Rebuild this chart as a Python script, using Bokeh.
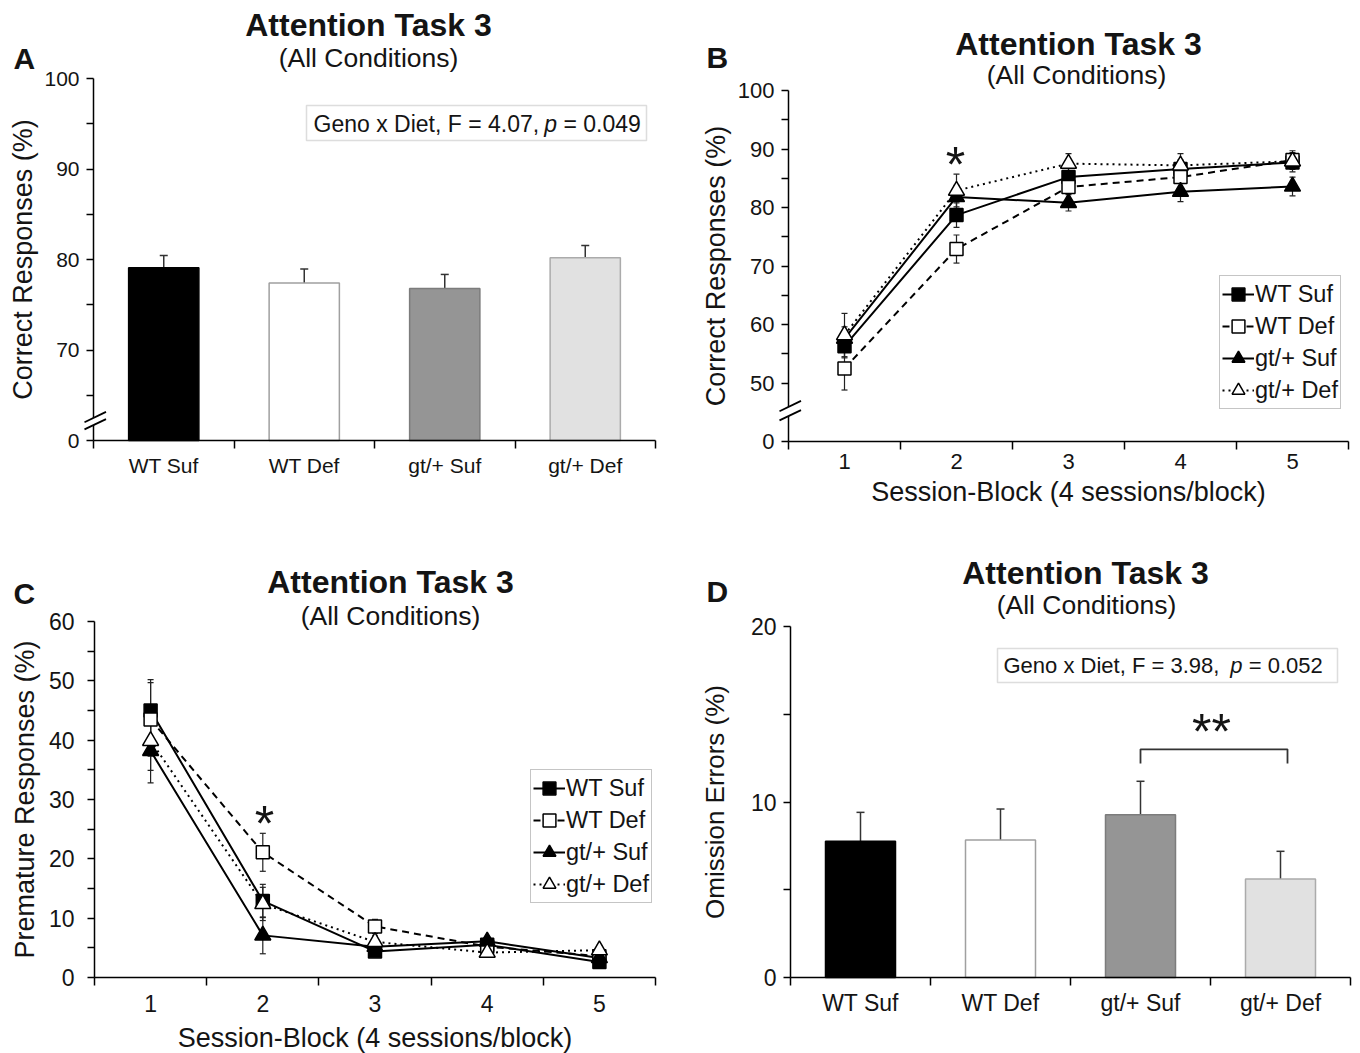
import math
from bokeh.plotting import figure
from bokeh.models import (Range1d, FixedTicker, Label, Arrow, Whisker, TeeHead,
                          ColumnDataSource, Legend, LegendItem, BoxAnnotation)
from bokeh.layouts import column, row
from bokeh.embed import file_html
from bokeh.resources import INLINE

FONT = "Liberation Sans"
INK = "#141414"

# ---------------- data ----------------
groups = ["WT Suf", "WT Def", "gt/+ Suf", "gt/+ Def"]
bar_fill = ["#000000", "#ffffff", "#959595", "#e1e1e1"]
bar_line = ["#000000", "#a0a0a0", "#7c7c7c", "#ababab"]

# Panel A: correct responses (bars); axis broken below 70 (bottom tick shown as "0")
a_correct = [79.1, 77.4, 76.8, 80.2]
a_sem = [1.35, 1.55, 1.55, 1.35]
a_major = [60, 70, 80, 90, 100]
a_minor = [65, 75, 85, 95]
a_overrides = {60: "0"}

# Panels B, C: per session block
blocks = [1, 2, 3, 4, 5]
series_names = ["WT Suf", "WT Def", "gt/+ Suf", "gt/+ Def"]

b_wt_suf = [56.3, 78.7, 85.2, 86.6, 87.7]
b_wt_def = [52.5, 72.9, 83.5, 85.2, 88.1]
b_gt_suf = [57.6, 81.8, 80.8, 82.7, 83.6]
b_gt_def = [58.2, 82.9, 87.5, 87.2, 87.9]
b_wt_suf_sem = [2.0, 2.1, 1.6, 1.5, 1.2]
b_wt_def_sem = [3.7, 2.4, 2.0, 1.8, 1.3]
b_gt_suf_sem = [2.0, 2.0, 1.4, 1.7, 1.6]
b_gt_def_sem = [3.7, 2.8, 1.7, 2.0, 1.8]
b_major = [40, 50, 60, 70, 80, 90, 100]
b_minor = [55, 65, 75, 85, 95]
b_overrides = {40: "0"}

c_wt_suf = [45.0, 12.9, 4.4, 5.5, 2.6]
c_wt_def = [43.5, 21.1, 8.6, 5.2, 3.6]
c_gt_suf = [38.2, 7.1, 5.2, 6.1, 3.3]
c_gt_def = [39.9, 12.4, 6.0, 4.2, 4.6]
c_wt_suf_sem = [5.2, 2.8, 0.8, 0.8, 0.6]
c_wt_def_sem = [6.2, 3.2, 1.2, 0.8, 0.6]
c_gt_suf_sem = [5.4, 3.1, 0.8, 0.8, 0.6]
c_gt_def_sem = [5.0, 2.8, 1.0, 0.8, 0.8]
c_major = [0, 10, 20, 30, 40, 50, 60]
c_minor = [5, 15, 25, 35, 45, 55]

# Panel D: omission errors (bars)
d_omission = [7.76, 7.83, 9.28, 5.61]
d_sem = [1.65, 1.77, 1.90, 1.58]
d_major = [0, 10, 20]
d_minor = [5, 15]
d_bracket_groups = ["gt/+ Suf", "gt/+ Def"]
d_bracket_top = 13.0
d_bracket_foot = 12.2

a_stat = [("Geno x Diet, F = 4.07, ", "normal"), ("p", "italic"), (" = 0.049", "normal")]
d_stat = [("Geno x Diet, F = 3.98,  ", "normal"), ("p", "italic"), (" = 0.052", "normal")]

series_style = [("square", "black", "solid", 13),
                ("square", "white", "7 5", 13),
                ("triangle", "black", "solid", 16),
                ("triangle", "white", "2 4", 16)]

ARIAL = {' ': 278, 'G': 722, 'e': 556, 'n': 556, 'o': 556, 'x': 500, 'D': 722,
         'i': 222, 't': 278, ',': 278, 'F': 611, '=': 584, '.': 278, 'p': 556}
for ch in "0123456789":
    ARIAL[ch] = 556


def width_em(s):
    return sum(ARIAL[c] for c in s) / 1000.0


class Panel:
    """One figure whose frame fills the whole canvas; the axes sit at fixed
    data locations so that every text lies inside the frame."""

    def __init__(self, ox, oy, W, H, fl, ft, fr, fb, xr, yr):
        self.g = (fl, ft, fr, fb)
        self.xr = xr
        self.yr = yr
        fx0, fy0 = self.d(ox, oy + H)
        fx1, fy1 = self.d(ox + W, oy)
        p = figure(width=W, height=H, x_range=Range1d(fx0, fx1), y_range=Range1d(fy0, fy1),
                   output_backend="svg", toolbar_location=None, min_border=0)
        p.title.visible = False
        p.outline_line_color = None
        p.xgrid.visible = False
        p.ygrid.visible = False
        p.background_fill_color = "white"
        p.border_fill_color = "white"
        p.xaxis.fixed_location = yr[0]
        p.xaxis.bounds = xr
        p.yaxis.fixed_location = xr[0]
        p.yaxis.bounds = yr
        self.p = p

    def d(self, sx, sy):
        fl, ft, fr, fb = self.g
        x = self.xr[0] + (sx - fl) / (fr - fl) * (self.xr[1] - self.xr[0])
        y = self.yr[0] + (fb - sy) / (fb - ft) * (self.yr[1] - self.yr[0])
        return x, y

    def center_x(self):
        return (self.g[0] + self.g[2]) / 2.0

    def center_y(self):
        return (self.g[1] + self.g[3]) / 2.0

    def text(self, s, sx, sy, size, style="normal", align="center", angle=0.0, color=INK):
        x, y = self.d(sx, sy)
        self.p.add_layout(Label(x=x, y=y, text=s, text_font=FONT, text_font_size=f"{size}px",
                                text_font_style=style, text_align=align,
                                text_baseline="middle", angle=angle, text_color=color))

    def seg(self, sx0, sy0, sx1, sy1, width=1.5, color="black"):
        x0, y0 = self.d(sx0, sy0)
        x1, y1 = self.d(sx1, sy1)
        self.p.add_layout(Arrow(x_start=x0, y_start=y0, x_end=x1, y_end=y1, start=None, end=None,
                                line_color=color, line_width=width))

    def axes(self, xticks, xminor, yticks, yminor, tick_px, xlabels=None, ylabels=None,
             x_standoff=5, y_standoff=7):
        p = self.p
        xa = p.xaxis[0]
        ya = p.yaxis[0]
        xa.ticker = FixedTicker(ticks=xticks, minor_ticks=xminor)
        ya.ticker = FixedTicker(ticks=yticks, minor_ticks=yminor)
        for a in (xa, ya):
            a.axis_line_color = "black"
            a.axis_line_width = 1.5
            a.major_tick_line_color = "black"
            a.major_tick_line_width = 1.5
            a.minor_tick_line_color = "black"
            a.minor_tick_line_width = 1.5
            a.major_label_text_font = FONT
            a.major_label_text_font_size = f"{tick_px}px"
            a.major_label_text_color = INK
        xa.major_tick_in = 0
        xa.major_tick_out = 0
        xa.minor_tick_in = 0
        xa.minor_tick_out = 8
        ya.major_tick_in = 0
        ya.major_tick_out = 7
        ya.minor_tick_in = 0
        ya.minor_tick_out = 7
        xa.major_label_standoff = x_standoff
        ya.major_label_standoff = y_standoff
        if xlabels:
            xa.major_label_overrides = xlabels
        if ylabels:
            ya.major_label_overrides = ylabels

    def broken_axis(self, yc, half):
        fl, ft, fr, fb = self.g
        self.p.yaxis[0].axis_line_color = None
        self.seg(fl, ft, fl, yc - half)
        self.seg(fl, yc + half, fl, fb)
        for dy in (-half, half):
            self.seg(fl - 9, yc + dy + 4.3, fl + 12.5, yc + dy - 6, width=1.8)

    def headings(self, letter, lx, ly, cx, ty, scx, sy, tsize=32, ssize=26.5):
        self.text(letter, lx, ly, 30, style="bold", align="left")
        self.text("Attention Task 3", cx, ty, tsize, style="bold")
        self.text("(All Conditions)", scx, sy, ssize)

    def stat_box(self, parts, sx, cy, size, box):
        left, top, right, bottom = box
        x0, y0 = self.d(left, bottom)
        x1, y1 = self.d(right, top)
        self.p.add_layout(BoxAnnotation(left=x0, right=x1, bottom=y0, top=y1,
                                        fill_color="white", fill_alpha=1.0,
                                        line_color="#8f8f8f", line_width=1.5))
        x = sx
        for s, style in parts:
            lead = len(s) - len(s.lstrip(" "))
            x += width_em(" " * lead) * size
            core = s.strip(" ")
            self.text(core, x, cy, size, style=style, align="left")
            x += width_em(s.lstrip(" ")) * size


def bars(P, values, sem):
    centers = [i + 0.5 for i in range(len(groups))]
    src = ColumnDataSource(dict(x=centers, top=values,
                                upper=[v + e for v, e in zip(values, sem)],
                                fill=bar_fill, line=bar_line))
    P.p.vbar(x="x", top="top", bottom=P.yr[0], width=0.5, fill_color="fill",
             line_color="line", line_width=1.5, source=src)
    P.p.add_layout(Whisker(source=src, base="x", lower="top", upper="upper", dimension="height",
                           line_color="#333333", line_width=1.5,
                           upper_head=TeeHead(size=8, line_color="#333333", line_width=1.5),
                           lower_head=None))


def lines(P, series, sems, loc):
    p = P.p
    srcs = []
    line_rs = []
    for ys, es, (mk, fill, dash, sz) in zip(series, sems, series_style):
        src = ColumnDataSource(dict(x=blocks, y=ys,
                                    lo=[v - e for v, e in zip(ys, es)],
                                    hi=[v + e for v, e in zip(ys, es)]))
        srcs.append(src)
        line_rs.append(p.line("x", "y", source=src, line_color="black", line_width=2,
                              line_dash=dash))
    for src in srcs:
        p.add_layout(Whisker(source=src, base="x", lower="lo", upper="hi", dimension="height",
                             line_color="#222222", line_width=1.2,
                             upper_head=TeeHead(size=6, line_color="#222222", line_width=1.2),
                             lower_head=TeeHead(size=6, line_color="#222222", line_width=1.2)))
    items = []
    for name, src, lr, (mk, fill, dash, sz) in zip(series_names, srcs, line_rs, series_style):
        sr = p.scatter("x", "y", source=src, marker=mk, size=sz, fill_color=fill,
                       line_color="black", line_width=1.5)
        items.append(LegendItem(label=name, renderers=[lr, sr]))
    leg = Legend(items=items, location=loc, orientation="vertical",
                 glyph_width=32, glyph_height=32, label_text_font=FONT,
                 label_text_font_size="23.5px", label_text_color=INK, label_standoff=1,
                 spacing=0, padding=2, margin=0, border_line_color="#8c8c8c",
                 border_line_width=1.5, background_fill_color="white",
                 background_fill_alpha=1.0)
    p.add_layout(leg, "center")


HALF_PI = math.pi / 2

# ---------------- Panel A ----------------
A = Panel(0, 0, 680, 520, 93, 78, 655, 440, (0, 4), (60, 100))
centersA = [i + 0.5 for i in range(len(groups))]
A.axes(centersA, [0, 1, 2, 3, 4], a_major, a_minor, 21,
       xlabels={c: g for c, g in zip(centersA, groups)}, ylabels=a_overrides,
       x_standoff=5, y_standoff=7)
bars(A, a_correct, a_sem)
A.broken_axis(421, 3.6)
A.headings("A", 13, 58, 368, 24, 368, 57.5)
A.text("Correct Responses (%)", 22, A.center_y(), 27, angle=HALF_PI)
A.stat_box(a_stat, 313, 123.3, 23, (306, 105, 646, 140))

# ---------------- Panel B ----------------
B = Panel(680, 0, 680, 520, 788, 90, 1348, 441, (0.5, 5.5), (40, 100))
B.axes(blocks, [0.5, 1.5, 2.5, 3.5, 4.5, 5.5], b_major, b_minor, 22,
       ylabels=b_overrides, x_standoff=4, y_standoff=7)
lines(B, [b_wt_suf, b_wt_def, b_gt_suf, b_gt_def],
      [b_wt_suf_sem, b_wt_def_sem, b_gt_suf_sem, b_gt_def_sem], (539, 111))
B.broken_axis(411, 4.6)
B.headings("B", 706, 57, 1078, 43, 1076, 74.5)
B.text("Correct Responses (%)", 715, B.center_y(), 27, angle=HALF_PI)
B.text("Session-Block (4 sessions/block)", B.center_x(), 491, 27)
B.text("*", 955, 164, 50)

# ---------------- Panel C ----------------
C = Panel(0, 520, 680, 533, 94, 621, 655, 977, (0.5, 5.5), (0, 60))
C.axes(blocks, [0.5, 1.5, 2.5, 3.5, 4.5, 5.5], c_major, c_minor, 23,
       x_standoff=9, y_standoff=13)
lines(C, [c_wt_suf, c_wt_def, c_gt_suf, c_gt_def],
      [c_wt_suf_sem, c_wt_def_sem, c_gt_suf_sem, c_gt_def_sem], (530, 150))
C.headings("C", 13, 592.5, 390, 581, 390, 615)
C.text("Premature Responses (%)", 24, C.center_y(), 27, angle=HALF_PI)
C.text("Session-Block (4 sessions/block)", C.center_x(), 1037, 27)
C.text("*", 264, 823, 50)

# ---------------- Panel D ----------------
D = Panel(680, 520, 680, 533, 790, 626, 1350, 977, (0, 4), (0, 20))
centersD = [i + 0.5 for i in range(len(groups))]
D.axes(centersD, [0, 1, 2, 3, 4], d_major, d_minor, 23,
       xlabels={c: g for c, g in zip(centersD, groups)}, x_standoff=4, y_standoff=7)
bars(D, d_omission, d_sem)
D.headings("D", 706, 591, 1085, 572.5, 1086, 604)
D.text("Omission Errors (%)", 714, D.center_y(), 26, angle=HALF_PI)
D.stat_box(d_stat, 1003, 665.4, 22, (997, 648, 1337, 682))
bk_x = [groups.index(d_bracket_groups[0]) + 0.5, groups.index(d_bracket_groups[0]) + 0.5,
        groups.index(d_bracket_groups[1]) + 0.55, groups.index(d_bracket_groups[1]) + 0.55]
bk_y = [d_bracket_foot, d_bracket_top, d_bracket_top, d_bracket_foot]
D.p.line(bk_x, bk_y, line_color="#333333", line_width=1.8)
D.text("**", 1211, 731, 50)

layout = column(row(A.p, B.p), row(C.p, D.p))
open("out.html", "w").write(file_html(layout, INLINE, title="Attention Task 3"))
